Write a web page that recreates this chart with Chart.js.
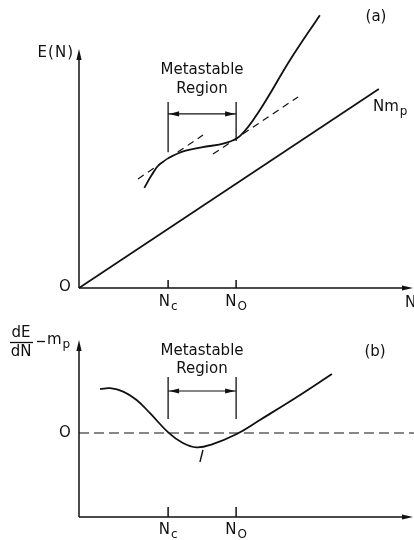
<!DOCTYPE html>
<html>
<head>
<meta charset="utf-8">
<script src="https://cdn.jsdelivr.net/npm/chart.js@4.4.0/dist/chart.umd.min.js"></script>
<style>
html, body { margin: 0; padding: 0; background: #fff; }
#wrap { position: relative; width: 414px; height: 540px; overflow: hidden; background: #fff; }
#energyChart { position: absolute; left: 0; top: 0; }
#slopeChart { position: absolute; left: 0; top: 310px; }
</style>
</head>
<body>
<div id="wrap">
    <canvas id="energyChart" width="414" height="322"></canvas>
    <canvas id="slopeChart" width="414" height="230"></canvas>
</div>
<script>
// N positions of the two marks (Nc, NO), arbitrary units
const nMarks = [2.66, 4.69];
const nMarkNames = [['N', 'c'], ['N', 'O']];

// panel (a): E(N)
const restLineX = [0, 8.95];
const restLineE = [0, 7.13];
const energyX = [1.95, 2.17, 2.42, 2.96, 3.66, 4.36, 4.81, 5.40, 6.30, 7.19];
const energyE = [3.59, 4.05, 4.45, 4.83, 5.04, 5.19, 5.45, 6.38, 8.17, 9.78];
const tangentLowX = [1.76, 3.70];
const tangentLowE = [3.91, 5.48];
const tangentHighX = [4.00, 6.54];
const tangentHighE = [4.80, 6.85];
const regionTopE = 6.67;
const regionBottomE = [4.87, 5.27];
const regionArrowE = 6.24;
const energyAxisTop = 8.57;

// panel (b): dE/dN - mp
const slopeX = [0.63, 0.93, 1.32, 1.72, 2.12, 2.67, 3.10, 3.51, 3.95, 4.71, 5.40, 6.60, 7.55];
const slopeD = [2.20, 2.24, 2.07, 1.65, 0.99, 0.02, -0.50, -0.72, -0.58, -0.05, 0.65, 1.90, 2.95];
const pointerX = [3.61, 3.70];
const pointerD = [-1.45, -0.85];
const slopeRegionD = [2.80, 0.70];
const slopeArrowD = 2.10;

const ink = '#111';
const font = '"DejaVu Sans", sans-serif';

function pts(xs, ys) {
    return xs.map((x, i) => ({ x: x, y: ys[i] }));
}

function lineSet(data, opts) {
    return Object.assign({
        data: data,
        showLine: true,
        borderColor: ink,
        borderWidth: 1.6,
        pointRadius: 0,
        fill: false,
        clip: false,
    }, opts || {});
}

function arrowHead(ctx, x, y, dir, len, half) {
    // dir: 'up', 'right', 'left'
    len = len || 10;
    half = half || 3;
    ctx.beginPath();
    ctx.moveTo(x, y);
    if (dir === 'up') {
        ctx.lineTo(x - half, y + len);
        ctx.lineTo(x + half, y + len);
    } else if (dir === 'right') {
        ctx.lineTo(x - len, y - half);
        ctx.lineTo(x - len, y + half);
    } else {
        ctx.lineTo(x + len, y - half);
        ctx.lineTo(x + len, y + half);
    }
    ctx.closePath();
    ctx.fill();
}

function subText(ctx, x, y, main, sub, size, align) {
    ctx.font = size + 'px ' + font;
    const wm = ctx.measureText(main).width;
    ctx.font = (size * 0.8) + 'px ' + font;
    const ws = ctx.measureText(sub).width;
    let left = x;
    if (align === 'center') left = x - (wm + ws + 1) / 2;
    ctx.textAlign = 'left';
    ctx.textBaseline = 'middle';
    ctx.font = size + 'px ' + font;
    ctx.fillText(main, left, y);
    ctx.font = (size * 0.8) + 'px ' + font;
    ctx.fillText(sub, left + wm + 1, y + size * 0.3);
}

function text(ctx, str, x, y, size, align) {
    ctx.font = size + 'px ' + font;
    ctx.textAlign = align || 'center';
    ctx.textBaseline = 'middle';
    ctx.fillText(str, x, y);
}

function drawFrame(chart, yMin, yTop, tickY) {
    const ctx = chart.ctx;
    const xs = chart.scales.x;
    const ys = chart.scales.y;
    const x0 = xs.getPixelForValue(0);
    const yBase = ys.getPixelForValue(yMin);
    const yTip = ys.getPixelForValue(yTop);
    const xEnd = xs.getPixelForValue(xs.max) - 1;
    ctx.save();
    ctx.strokeStyle = ink;
    ctx.fillStyle = ink;
    ctx.lineWidth = 1.5;
    ctx.beginPath();
    ctx.moveTo(x0, yBase);
    ctx.lineTo(x0, yTip + 6);
    ctx.moveTo(x0, yBase);
    ctx.lineTo(xEnd - 6, yBase);
    nMarks.forEach(n => {
        const px = xs.getPixelForValue(n);
        ctx.moveTo(px, yBase);
        ctx.lineTo(px, yBase - tickY);
    });
    ctx.stroke();
    arrowHead(ctx, x0, yTip, 'up', 11, 2.6);
    arrowHead(ctx, xEnd, yBase, 'right', 11, 2.6);
    ctx.restore();
}

function drawRegionArrow(chart, yVal) {
    const ctx = chart.ctx;
    const xs = chart.scales.x;
    const py = chart.scales.y.getPixelForValue(yVal);
    ctx.save();
    ctx.fillStyle = ink;
    arrowHead(ctx, xs.getPixelForValue(nMarks[0]) + 1, py, 'left', 10, 2.6);
    arrowHead(ctx, xs.getPixelForValue(nMarks[1]) - 1, py, 'right', 10, 2.6);
    ctx.restore();
}

const energyPlugin = {
    id: 'energyFrame',
    afterDatasetsDraw(chart) {
        const ctx = chart.ctx;
        const xs = chart.scales.x;
        drawFrame(chart, 0, energyAxisTop, 8);
        drawRegionArrow(chart, regionArrowE);
        ctx.save();
        ctx.fillStyle = ink;
        ctx.letterSpacing = '1px';
        text(ctx, 'E(N)', 74, 53, 15, 'right');
        ctx.letterSpacing = '0px';
        text(ctx, 'O', 65, 287, 15);
        nMarks.forEach((n, i) => {
            subText(ctx, xs.getPixelForValue(n), 302, nMarkNames[i][0], nMarkNames[i][1], 15, 'center');
        });
        text(ctx, 'N', 405, 303, 15, 'left');
        text(ctx, 'Metastable', 202, 70, 15);
        text(ctx, 'Region', 202, 89, 15);
        text(ctx, '(a)', 376, 17, 15);
        subText(ctx, 373, 107, 'Nm', 'p', 15, 'left');
        ctx.restore();
    },
};

const slopePlugin = {
    id: 'slopeFrame',
    afterDatasetsDraw(chart) {
        const ctx = chart.ctx;
        const xs = chart.scales.x;
        const ys = chart.scales.y;
        drawFrame(chart, ys.min, ys.max, 10);
        drawRegionArrow(chart, slopeArrowD);
        ctx.save();
        ctx.fillStyle = ink;
        ctx.strokeStyle = ink;
        text(ctx, 'dE', 21, 23, 15);
        text(ctx, 'dN', 21, 42, 15);
        ctx.lineWidth = 1.3;
        ctx.beginPath();
        ctx.moveTo(10, 32.5);
        ctx.lineTo(33, 32.5);
        ctx.stroke();
        ctx.beginPath();
        ctx.moveTo(37, 31.5);
        ctx.lineTo(45, 31.5);
        ctx.stroke();
        subText(ctx, 47, 30, 'm', 'p', 15, 'left');
        text(ctx, 'O', 65, ys.getPixelForValue(0), 15);
        nMarks.forEach((n, i) => {
            subText(ctx, xs.getPixelForValue(n), 220, nMarkNames[i][0], nMarkNames[i][1], 15, 'center');
        });
        text(ctx, 'Metastable', 202, 41, 15);
        text(ctx, 'Region', 202, 59, 15);
        text(ctx, '(b)', 375, 42, 15);
        ctx.restore();
    },
};

const hiddenScales = (yMin, yMax) => ({
    x: { type: 'linear', min: 0, max: 10, display: false },
    y: { type: 'linear', min: yMin, max: yMax, display: false },
});

const baseOptions = (pad, yMin, yMax) => ({
    responsive: false,
    animation: false,
    events: [],
    layout: { padding: pad },
    plugins: { legend: { display: false }, tooltip: { enabled: false } },
    scales: hiddenScales(yMin, yMax),
});

new Chart(document.getElementById('energyChart').getContext('2d'), {
    type: 'scatter',
    data: {
        datasets: [
            lineSet(pts(restLineX, restLineE), { borderWidth: 1.7 }),
            lineSet(pts(energyX, energyE), { tension: 0.4, borderWidth: 1.8 }),
            lineSet(pts(tangentLowX, tangentLowE), { borderWidth: 1.2, borderDash: [7, 5] }),
            lineSet(pts(tangentHighX, tangentHighE), { borderWidth: 1.2, borderDash: [7, 5] }),
            lineSet(pts([nMarks[0], nMarks[0]], [regionTopE, regionBottomE[0]]), { borderWidth: 1.3 }),
            lineSet(pts([nMarks[1], nMarks[1]], [regionTopE, regionBottomE[1]]), { borderWidth: 1.3 }),
            lineSet(pts(nMarks, [regionArrowE, regionArrowE]), { borderWidth: 1.1 }),
        ],
    },
    options: baseOptions({ left: 79, right: 0, top: 9, bottom: 34 }, 0, 10),
    plugins: [energyPlugin],
});

new Chart(document.getElementById('slopeChart').getContext('2d'), {
    type: 'scatter',
    data: {
        datasets: [
            lineSet(pts([0, 10], [0, 0]), { borderWidth: 1.2, borderDash: [10, 5] }),
            lineSet(pts(slopeX, slopeD), { tension: 0.4, borderWidth: 1.8 }),
            lineSet(pts(pointerX, pointerD), { borderWidth: 1.4 }),
            lineSet(pts([nMarks[0], nMarks[0]], slopeRegionD), { borderWidth: 1.3 }),
            lineSet(pts([nMarks[1], nMarks[1]], slopeRegionD), { borderWidth: 1.3 }),
            lineSet(pts(nMarks, [slopeArrowD, slopeArrowD]), { borderWidth: 1.1 }),
        ],
    },
    options: baseOptions({ left: 79, right: 0, top: 30, bottom: 23 }, -4.2, 4.65),
    plugins: [slopePlugin],
});
</script>
</body>
</html>
